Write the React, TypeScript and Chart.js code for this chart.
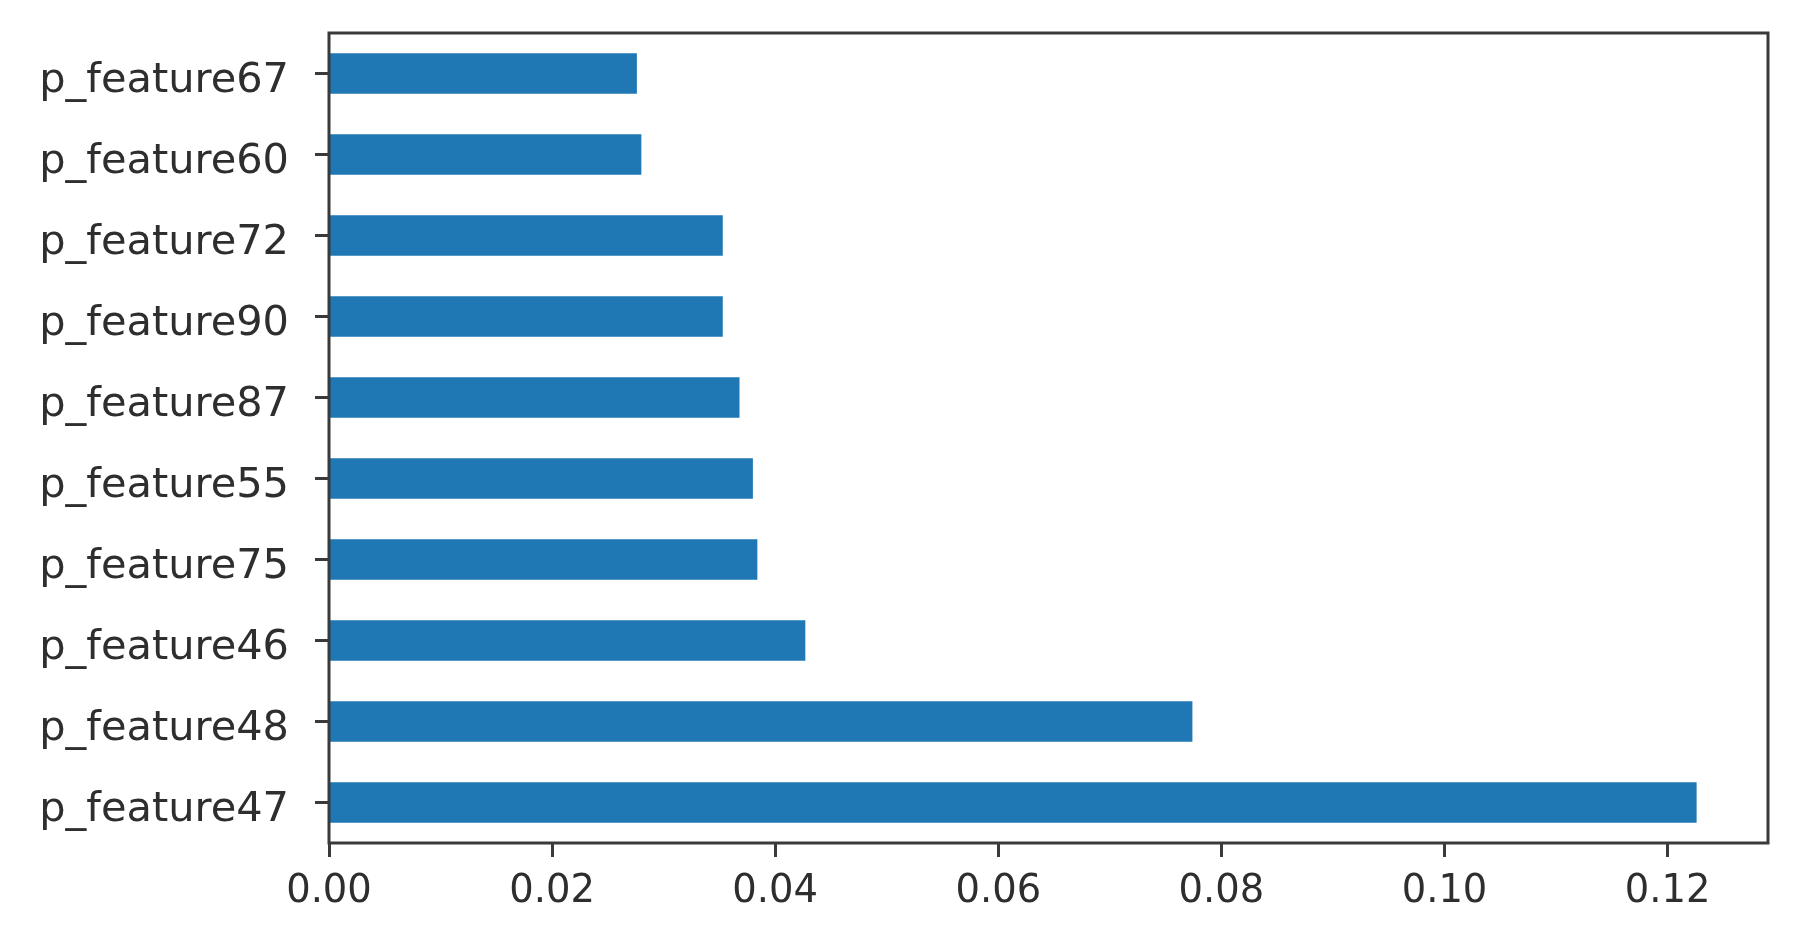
import React, { useEffect, useRef } from "react";
import { Chart, registerables } from "chart.js";

Chart.register(...registerables);

const categories: string[] = [
  "p_feature67",
  "p_feature60",
  "p_feature72",
  "p_feature90",
  "p_feature87",
  "p_feature55",
  "p_feature75",
  "p_feature46",
  "p_feature48",
  "p_feature47",
];

const importances: number[] = [
  0.0276, 0.028, 0.0353, 0.0353, 0.0368, 0.038, 0.0384, 0.0427, 0.0774, 0.1226,
];

const xMin = 0;
const xMax = 0.129;
const xStep = 0.02;

const W = 1797;
const H = 935;

const framePlugin = {
  id: "frame",
  afterDatasetsDraw(chart: any) {
    const { ctx, chartArea } = chart;
    ctx.save();
    ctx.strokeStyle = "#3a3a3a";
    ctx.lineWidth = 3;
    ctx.strokeRect(
      chartArea.left,
      chartArea.top,
      chartArea.right - chartArea.left,
      chartArea.bottom - chartArea.top
    );
    ctx.restore();
  },
};

export default function App() {
  const ref = useRef<HTMLCanvasElement>(null);

  useEffect(() => {
    document.body.style.margin = "0";
    const canvas = ref.current;
    if (!canvas) return;
    const chart = new Chart(canvas, {
      type: "bar",
      data: {
        labels: categories,
        datasets: [
          {
            data: importances,
            backgroundColor: "#1f77b4",
            borderWidth: 0,
            barPercentage: 0.5,
            categoryPercentage: 1,
          },
        ],
      },
      options: {
        indexAxis: "y",
        responsive: false,
        animation: false,
        devicePixelRatio: 1,
        layout: { padding: { left: 0, right: 29, top: 33, bottom: 0 } },
        plugins: {
          legend: { display: false },
          tooltip: { enabled: false },
        },
        scales: {
          x: {
            type: "linear",
            min: xMin,
            max: xMax,
            border: { display: false },
            grid: {
              display: true,
              drawOnChartArea: false,
              drawTicks: true,
              tickLength: 14,
              tickWidth: 3,
              tickColor: "#3a3a3a",
            },
            ticks: {
              stepSize: xStep,
              includeBounds: false,
              padding: 12,
              color: "#2e2e2e",
              font: { family: "DejaVu Sans", size: 38.5 },
              callback: (v: any) => Number(v).toFixed(2),
              maxRotation: 0,
            },
            afterFit: (scale: any) => {
              scale.height = 92;
              scale.paddingLeft = 0;
              scale.paddingRight = 0;
            },
          },
          y: {
            type: "category",
            offset: true,
            border: { display: false },
            grid: {
              display: true,
              offset: false,
              drawOnChartArea: false,
              drawTicks: true,
              tickLength: 14,
              tickWidth: 3,
              tickColor: "#3a3a3a",
            },
            ticks: {
              padding: 26,
              color: "#2e2e2e",
              font: { family: "DejaVu Sans", size: 41.5, lineHeight: 0.38 },
              // empty first line nudges the label down to matplotlib's baseline-centred position
              callback: function (this: any, v: any) {
                return ["", this.getLabelForValue(v)];
              },
            },
            afterFit: (scale: any) => {
              scale.width = 329;
              scale.paddingTop = 0;
              scale.paddingBottom = 0;
            },
          },
        },
      },
      plugins: [framePlugin],
    });
    return () => chart.destroy();
  }, []);

  return (
    <div style={{ position: "absolute", left: 0, top: 0, width: W, height: H, background: "#fff" }}>
      <canvas ref={ref} width={W} height={H} style={{ width: W, height: H, display: "block" }} />
    </div>
  );
}
